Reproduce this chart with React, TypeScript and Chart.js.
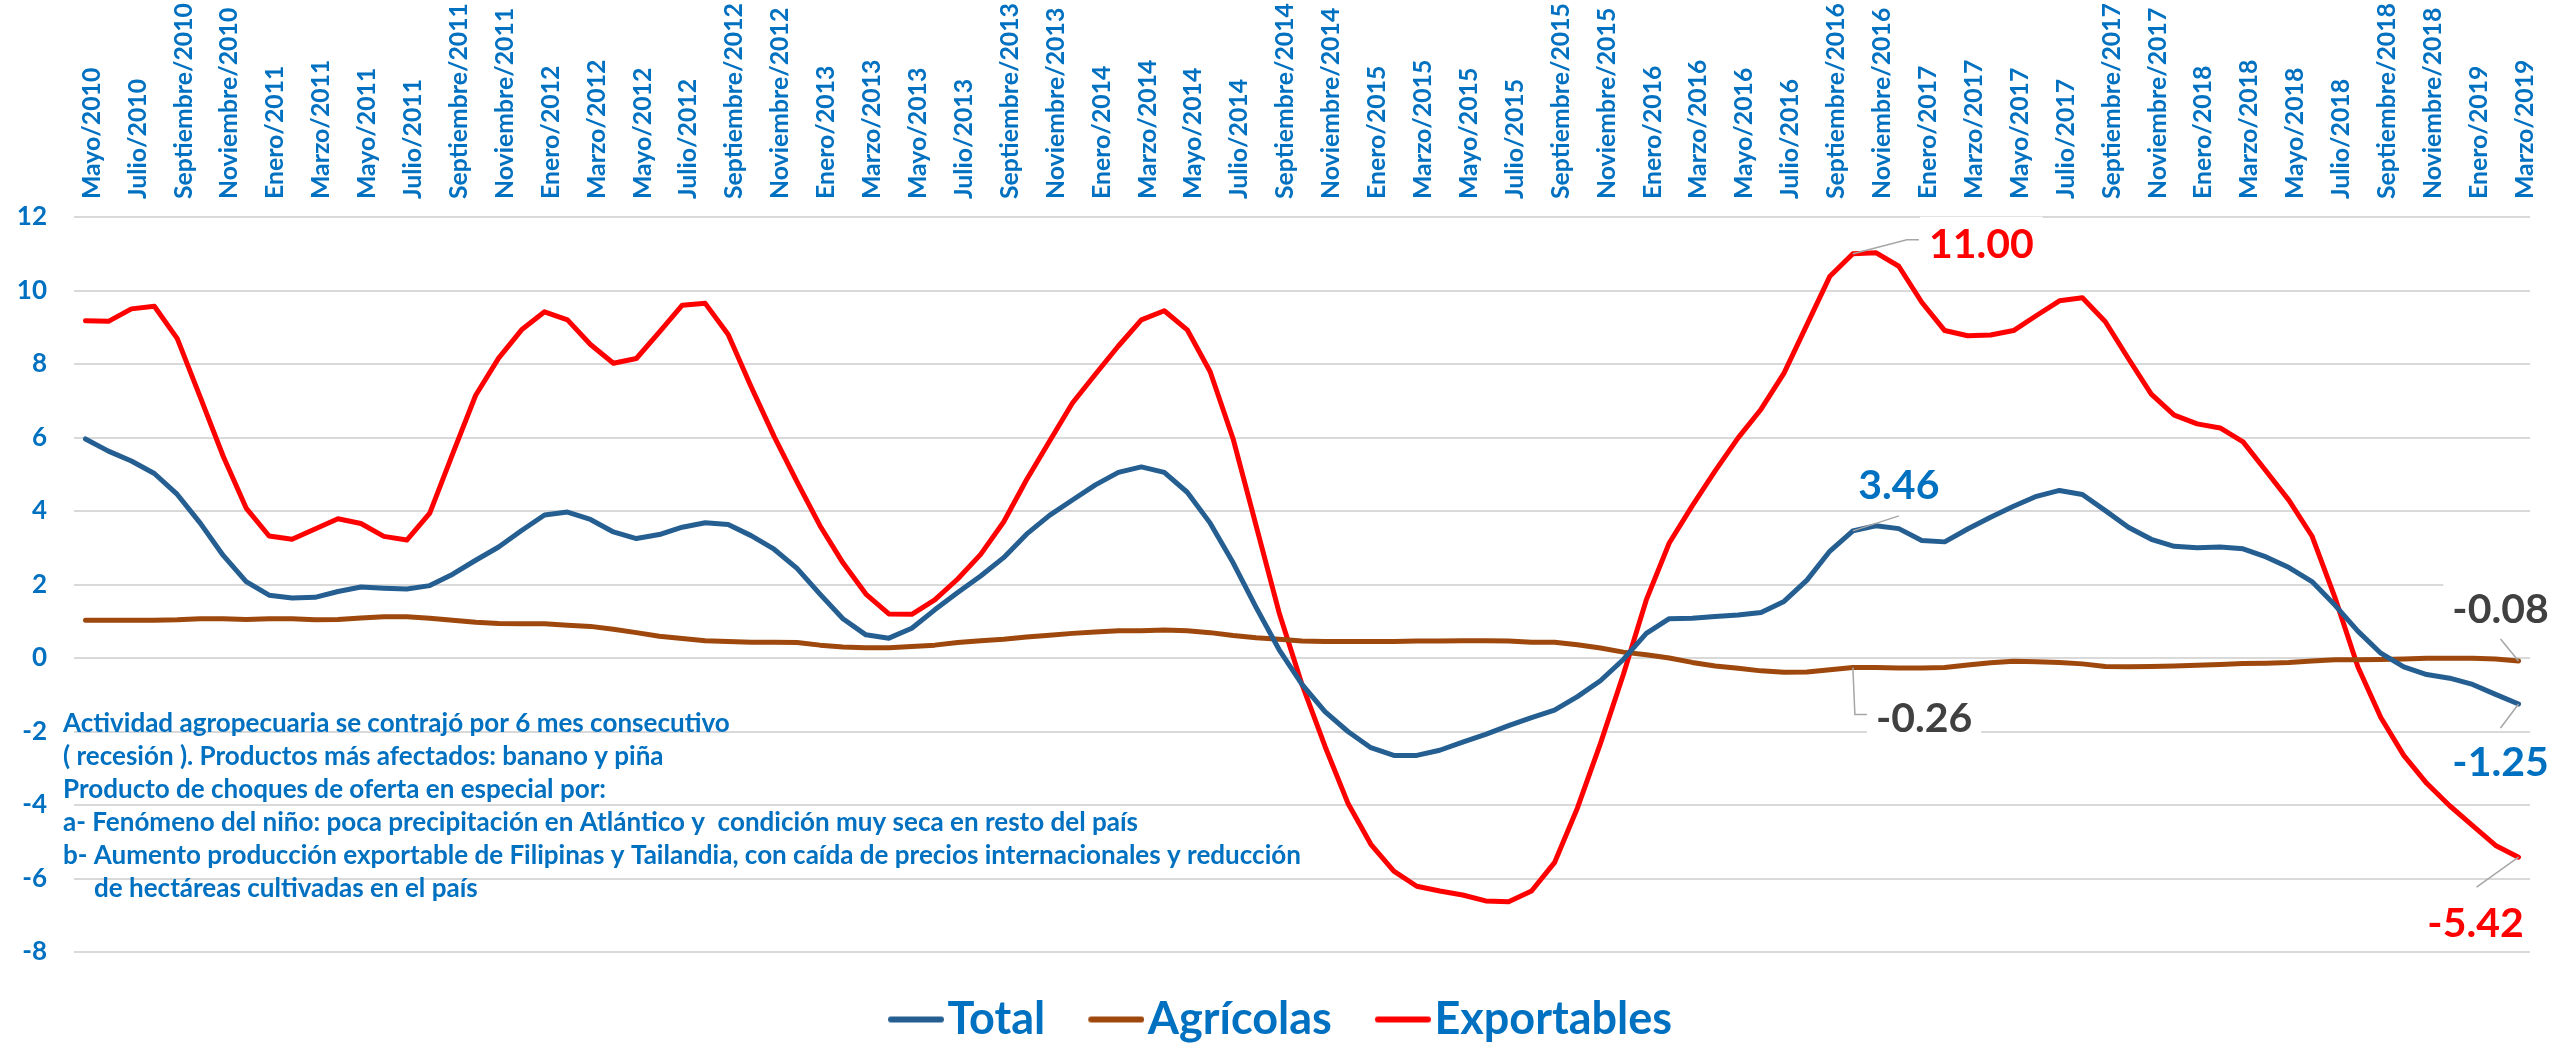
import React, { useEffect, useRef } from 'react';
import { Chart, registerables } from 'chart.js';

Chart.register(...registerables);

// ---------- Data ----------
const MONTH_NAMES = ['Enero', 'Febrero', 'Marzo', 'Abril', 'Mayo', 'Junio', 'Julio', 'Agosto', 'Septiembre', 'Octubre', 'Noviembre', 'Diciembre'];
const FIRST_YEAR = 2010;
const FIRST_MONTH = 4; // Mayo
const MONTH_COUNT = 107; // Mayo/2010 .. Marzo/2019
const CATEGORIES = Array.from({ length: MONTH_COUNT }, (_, i) => {
  const m = FIRST_MONTH + i;
  return `${MONTH_NAMES[m % 12]}/${FIRST_YEAR + Math.floor(m / 12)}`;
});

const TOTAL = [
  5.96, 5.63, 5.36, 5.02, 4.45, 3.67, 2.79, 2.08, 1.71, 1.63,
  1.65, 1.81, 1.93, 1.90, 1.88, 1.97, 2.28, 2.66, 3.02, 3.47,
  3.89, 3.97, 3.77, 3.43, 3.25, 3.36, 3.56, 3.68, 3.63, 3.33,
  2.96, 2.44, 1.74, 1.07, 0.63, 0.54, 0.81, 1.31, 1.78, 2.23,
  2.73, 3.37, 3.88, 4.30, 4.71, 5.05, 5.20, 5.05, 4.51, 3.67,
  2.59, 1.38, 0.23, -0.72, -1.46, -2.00, -2.44, -2.65, -2.65, -2.51,
  -2.29, -2.08, -1.84, -1.62, -1.42, -1.05, -0.62, -0.04, 0.67, 1.07,
  1.08, 1.13, 1.17, 1.24, 1.54, 2.12, 2.91, 3.46, 3.60, 3.52,
  3.20, 3.16, 3.51, 3.83, 4.13, 4.40, 4.56, 4.45, 4.01, 3.56,
  3.23, 3.04, 3.00, 3.02, 2.97, 2.75, 2.46, 2.08, 1.44, 0.73,
  0.13, -0.24, -0.45, -0.55, -0.72, -0.99, -1.25,
];

const AGRICOLAS = [
  1.03, 1.03, 1.03, 1.03, 1.04, 1.07, 1.07, 1.05, 1.07, 1.07,
  1.04, 1.05, 1.09, 1.12, 1.12, 1.08, 1.03, 0.97, 0.94, 0.93,
  0.93, 0.89, 0.86, 0.78, 0.69, 0.59, 0.53, 0.47, 0.45, 0.43,
  0.43, 0.42, 0.35, 0.30, 0.28, 0.28, 0.31, 0.35, 0.42, 0.47,
  0.51, 0.57, 0.62, 0.67, 0.71, 0.74, 0.74, 0.76, 0.74, 0.69,
  0.61, 0.55, 0.51, 0.46, 0.45, 0.45, 0.45, 0.45, 0.46, 0.46,
  0.47, 0.47, 0.46, 0.43, 0.43, 0.36, 0.27, 0.16, 0.09, 0.00,
  -0.12, -0.22, -0.28, -0.35, -0.39, -0.38, -0.32, -0.26, -0.26, -0.27,
  -0.27, -0.26, -0.19, -0.13, -0.09, -0.10, -0.12, -0.16, -0.23, -0.24,
  -0.23, -0.22, -0.20, -0.18, -0.15, -0.14, -0.12, -0.08, -0.05, -0.05,
  -0.04, -0.03, -0.01, -0.01, -0.01, -0.03, -0.08,
];

const EXPORTABLES = [
  9.18, 9.16, 9.50, 9.57, 8.69, 7.10, 5.49, 4.08, 3.32, 3.23,
  3.51, 3.79, 3.66, 3.31, 3.21, 3.94, 5.56, 7.15, 8.16, 8.93,
  9.42, 9.20, 8.53, 8.02, 8.15, 8.87, 9.60, 9.65, 8.80, 7.38,
  6.03, 4.79, 3.60, 2.59, 1.74, 1.20, 1.19, 1.58, 2.15, 2.82,
  3.70, 4.85, 5.90, 6.94, 7.72, 8.49, 9.20, 9.45, 8.93, 7.79,
  5.96, 3.60, 1.24, -0.72, -2.40, -3.95, -5.07, -5.80, -6.21, -6.34,
  -6.45, -6.61, -6.63, -6.34, -5.57, -4.08, -2.33, -0.45, 1.58, 3.13,
  4.14, 5.09, 5.99, 6.77, 7.75, 9.07, 10.39, 11.00, 11.03, 10.66,
  9.68, 8.91, 8.77, 8.79, 8.91, 9.32, 9.72, 9.80, 9.15, 8.15,
  7.18, 6.61, 6.37, 6.26, 5.88, 5.09, 4.29, 3.32, 1.65, -0.24,
  -1.62, -2.65, -3.41, -4.02, -4.56, -5.10, -5.42,
];

const SERIES_NAMES = ['Total', 'Agrícolas', 'Exportables'];
const SERIES_COLORS = ['#255E91', '#9E480E', '#FF0000'];
const SERIES_DATA = [TOTAL, AGRICOLAS, EXPORTABLES];

const Y_MIN = -8;
const Y_MAX = 12;
const Y_STEP = 2;

const NOTE_LINES = [
  'Actividad agropecuaria se contrajó por 6 mes consecutivo',
  '( recesión ). Productos más afectados: banano y piña',
  'Producto de choques de oferta en especial por:',
  'a- Fenómeno del niño: poca precipitación en Atlántico y  condición muy seca en resto del país',
  'b- Aumento producción exportable de Filipinas y Tailandia, con caída de precios internacionales y reducción',
  'de hectáreas cultivadas en el país',
];

// callouts: which point gets a value label (series index, point index)
const CALLOUT_POINTS = [
  [2, 77], [0, 77], [1, 77], [1, 106], [0, 106], [2, 106],
];
const CALLOUT_COLORS = ['#FF0000', '#0070C0', '#404040', '#404040', '#0070C0', '#FF0000'];

// ---------- Styles ----------
const BLUE_TEXT = '#0070C0';
const FONT = 'Lato';
// leader offsets from the point, text anchor offset and alignment
const CALLOUT_LAYOUT = [
  { leader: [[54, -14], [66, -14]], dx: 76, dy: -11, align: 'left' },
  { leader: [[46, -15]], dx: 46, dy: -47, align: 'center' },
  { leader: [[2, 47], [14, 47]], dx: 23, dy: 50, align: 'left' },
  { leader: [[-18, -22]], dx: -18, dy: -53, align: 'center' },
  { leader: [[-18, 24]], dx: -18, dy: 57, align: 'center' },
  { leader: [[-42, 30]], dx: -43, dy: 65, align: 'center' },
];

const LEG_BOX = 35;
function legendLine(color: string): HTMLCanvasElement {
  const c = document.createElement('canvas');
  c.width = LEG_BOX + 38;
  c.height = 8;
  const g = c.getContext('2d')!;
  g.strokeStyle = color;
  g.lineWidth = 6;
  g.lineCap = 'round';
  g.beginPath();
  g.moveTo(LEG_BOX + 38 - 56 + 3, 4);
  g.lineTo(LEG_BOX + 38 - 3, 4);
  g.stroke();
  return c;
}

const legendShiftPlugin = {
  id: 'legendShift',
  afterLayout(chart: any) {
    const lg = chart.legend;
    if (lg) {
      lg.left += 16;
      lg.right += 16;
    }
  },
};

const notePlugin = {
  id: 'notePlugin',
  afterDraw(chart: any) {
    const { ctx, chartArea } = chart;
    const y = chart.scales.y;
    ctx.save();
    ctx.fillStyle = BLUE_TEXT;
    ctx.font = `bold 100px ${FONT}`;
    const w = ctx.measureText(NOTE_LINES[0]).width;
    const size = (100 * 667) / w;
    ctx.font = `bold ${size}px ${FONT}`;
    ctx.textAlign = 'left';
    ctx.textBaseline = 'alphabetic';
    const x0 = chartArea.left - 11;
    const base = y.getPixelForValue(-2);
    NOTE_LINES.forEach((t, k) => {
      ctx.fillText(t, x0 + (k === NOTE_LINES.length - 1 ? 31 : 0), base + k * 33);
    });
    ctx.restore();
  },
};

const calloutPlugin = {
  id: 'calloutPlugin',
  afterDatasetsDraw(chart: any) {
    const { ctx } = chart;
    ctx.save();
    const fs = 41;
    ctx.font = `bold ${fs}px ${FONT}`;
    CALLOUT_POINTS.forEach(([s, idx], k) => {
      const pt = chart.getDatasetMeta(s).data[idx];
      const px = pt.x;
      const py = pt.y;
      const lay = CALLOUT_LAYOUT[k];
      const text = SERIES_DATA[s][idx].toFixed(2);
      const tw = ctx.measureText(text).width;
      const cx = px + lay.dx;
      const cy = py + lay.dy;
      const left = lay.align === 'left' ? cx : cx - tw / 2;
      ctx.fillStyle = '#FFFFFF';
      ctx.fillRect(left - 9, cy - 26, tw + 18, 52);
      ctx.strokeStyle = '#A6A6A6';
      ctx.lineWidth = 1.5;
      ctx.beginPath();
      ctx.moveTo(px, py);
      lay.leader.forEach(([ox, oy]) => ctx.lineTo(px + ox, py + oy));
      ctx.stroke();
      ctx.fillStyle = CALLOUT_COLORS[k];
      ctx.textAlign = 'left';
      ctx.textBaseline = 'alphabetic';
      ctx.fillText(text, left, cy + fs * 0.36);
    });
    ctx.restore();
  },
};

export default function App() {
  const ref = useRef<HTMLCanvasElement>(null);
  useEffect(() => {
    const canvas = ref.current!;
    const chart = new Chart(canvas, {
      type: 'line',
      data: {
        labels: CATEGORIES,
        datasets: SERIES_DATA.map((d, i) => ({
          label: SERIES_NAMES[i],
          data: d,
          borderColor: SERIES_COLORS[i],
          backgroundColor: SERIES_COLORS[i],
          borderWidth: 5,
          pointRadius: 0,
          pointHoverRadius: 0,
          pointStyle: legendLine(SERIES_COLORS[i]) as any,
          tension: 0,
          borderCapStyle: 'round',
          borderJoinStyle: 'round',
          fill: false,
        })),
      },
      options: {
        responsive: false,
        devicePixelRatio: 1,
        animation: false,
        layout: { padding: { left: 0, right: 24, top: 0, bottom: -7 } },
        scales: {
          x: {
            type: 'category',
            position: 'top',
            offset: true,
            grid: { display: false, drawTicks: false },
            border: { display: false },
            ticks: {
              autoSkip: false,
              minRotation: 90,
              maxRotation: 90,
              padding: 18,
              labelOffset: 36,
              color: BLUE_TEXT,
              font: { family: FONT, weight: 'bold', size: 24.8 },
              callback: (_v: any, idx: number) => (idx % 2 === 0 ? CATEGORIES[idx] : ''),
            },
            afterFit: (scale: any) => {
              scale.height = 217;
              scale.paddingLeft = 0;
              scale.paddingRight = 0;
            },
          },
          y: {
            min: Y_MIN,
            max: Y_MAX,
            grid: { color: '#D9D9D9', lineWidth: 2, drawTicks: false },
            border: { display: false },
            ticks: {
              stepSize: Y_STEP,
              padding: 27,
              color: BLUE_TEXT,
              font: { family: FONT, weight: 'bold', size: 26 },
            },
            afterFit: (scale: any) => {
              scale.width = 74;
              scale.paddingTop = 0;
              scale.paddingBottom = 0;
            },
          },
        },
        plugins: {
          legend: {
            position: 'bottom',
            labels: {
              usePointStyle: true,
              pointStyleWidth: LEG_BOX,
              padding: 45,
              color: BLUE_TEXT,
              font: { family: FONT, weight: 'bold', size: 45 },
            },
          },
          tooltip: { enabled: false },
        },
      },
      plugins: [legendShiftPlugin, notePlugin, calloutPlugin],
    } as any);
    return () => chart.destroy();
  }, []);
  return (
    <div style={{ position: 'fixed', left: 0, top: 0, width: 2554, height: 1045, background: '#FFFFFF' }}>
      <canvas ref={ref} width={2554} height={1045} style={{ display: 'block', width: 2554, height: 1045 }} />
    </div>
  );
}
